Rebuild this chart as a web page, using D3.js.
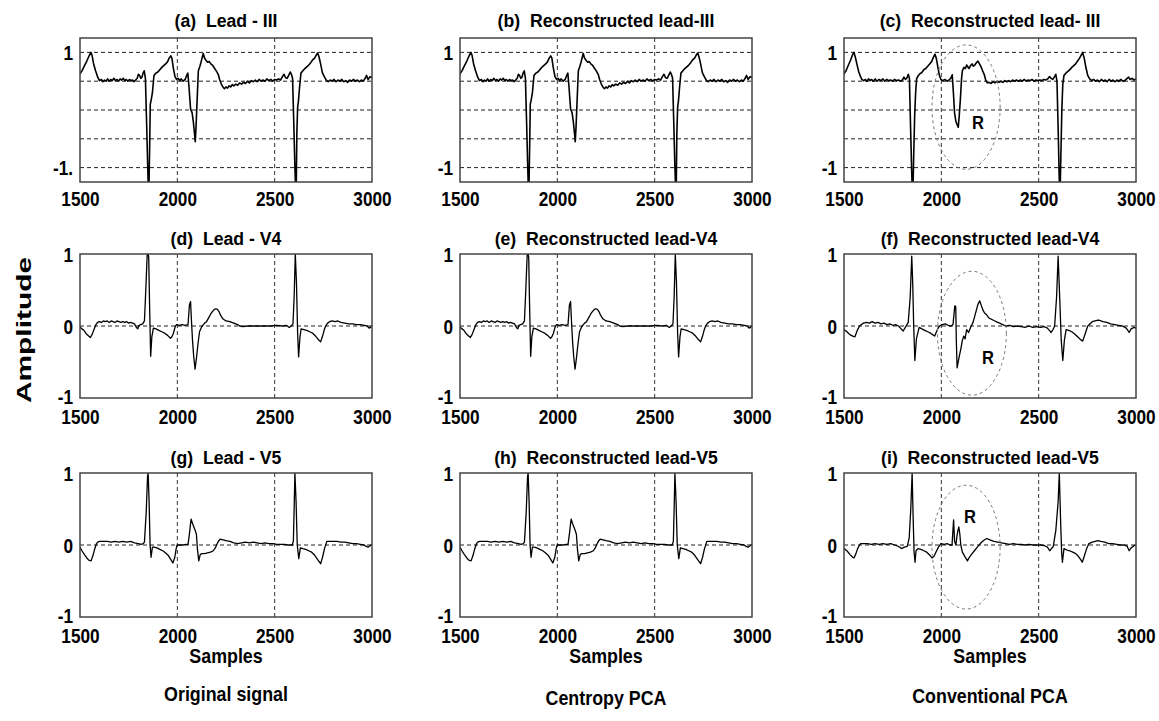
<!DOCTYPE html>
<html><head><meta charset="utf-8">
<script src="https://cdn.jsdelivr.net/npm/d3@7"></script>
<style>
body{margin:0;background:#fff}
svg text{font-family:"Liberation Sans",Arial,sans-serif;font-weight:bold;fill:#000;white-space:pre}
</style>
</head><body><svg id="c" width="1159" height="721"></svg>
<script>
// ---------- data ----------
const xDomain = [1500, 3000];
const xTicks = [1500, 2000, 2500, 3000];
const xGrid = [2000, 2500];
const rowYDomains = [[-1.25, 1.25], [-1, 1], [-1, 1]];
const rowYGrid = [[1, 0.5, 0, -0.5, -1], [0], [0]];
const rowYTicks = [[1, -1], [1, 0, -1], [1, 0, -1]];
const yTickText = [["1", "-1."], ["1", "-1"], ["1", "-1"], ["1", "0", "-1"], ["1", "0", "-1"], ["1", "0", "-1"], ["1", "0", "-1"], ["1", "0", "-1"], ["1", "0", "-1"]];
const titles = ["(a)  Lead - III", "(b)  Reconstructed lead-III", "(c)  Reconstructed lead- III",
  "(d)  Lead - V4", "(e)  Reconstructed lead-V4", "(f)  Reconstructed lead-V4",
  "(g)  Lead - V5", "(h)  Reconstructed lead-V5", "(i)  Reconstructed lead-V5"];
const columnLabels = ["Original signal", "Centropy PCA", "Conventional PCA"];

// Lead III original (a); centropy reconstruction (b) is visually identical
const leadIII_original = [[1500,0.63],[1510,0.68],[1520,0.75],[1535,0.85],[1548,0.95],[1556,1.0],[1562,0.95],[1570,0.8],[1580,0.68],[1591,0.57],[1600,0.51],[1610,0.53],[1618,0.49],[1626,0.52],[1634,0.5],[1642,0.54],[1650,0.5],[1658,0.53],[1666,0.51],[1674,0.55],[1682,0.51],[1690,0.53],[1698,0.5],[1706,0.54],[1714,0.52],[1722,0.55],[1730,0.51],[1738,0.53],[1746,0.5],[1754,0.53],[1762,0.51],[1770,0.52],[1778,0.49],[1786,0.52],[1794,0.55],[1800,0.62],[1806,0.6],[1812,0.55],[1818,0.57],[1824,0.64],[1830,0.68],[1836,0.55],[1842,-0.2],[1848,-1.0],[1853,-1.6],[1858,-0.6],[1861,0.1],[1866,0.18],[1872,0.3],[1880,0.6],[1890,0.64],[1900,0.66],[1910,0.7],[1920,0.74],[1930,0.77],[1940,0.8],[1950,0.84],[1958,0.9],[1966,0.94],[1972,0.9],[1980,0.72],[1988,0.58],[1996,0.53],[2004,0.55],[2012,0.51],[2020,0.54],[2030,0.5],[2040,0.53],[2048,0.6],[2054,0.64],[2060,0.4],[2068,0.02],[2076,-0.05],[2082,-0.2],[2088,-0.4],[2092,-0.55],[2096,-0.3],[2102,0.2],[2108,0.68],[2115,0.75],[2121,0.82],[2127,0.9],[2133,0.98],[2140,0.9],[2148,0.86],[2156,0.83],[2164,0.84],[2172,0.8],[2180,0.78],[2190,0.73],[2200,0.68],[2210,0.62],[2218,0.52],[2226,0.45],[2234,0.4],[2242,0.37],[2250,0.4],[2258,0.38],[2266,0.42],[2274,0.4],[2282,0.44],[2290,0.42],[2300,0.45],[2310,0.43],[2320,0.47],[2330,0.45],[2340,0.48],[2350,0.46],[2360,0.5],[2370,0.47],[2380,0.51],[2390,0.49],[2400,0.52],[2410,0.49],[2420,0.53],[2430,0.5],[2440,0.52],[2450,0.5],[2460,0.54],[2470,0.51],[2480,0.53],[2490,0.5],[2500,0.53],[2510,0.52],[2520,0.54],[2530,0.52],[2540,0.58],[2548,0.62],[2556,0.56],[2564,0.55],[2572,0.6],[2580,0.66],[2586,0.62],[2592,0.55],[2598,-0.2],[2604,-1.0],[2610,-1.6],[2614,-0.4],[2618,0.05],[2622,0.15],[2628,0.4],[2635,0.64],[2645,0.68],[2655,0.72],[2665,0.75],[2675,0.78],[2685,0.82],[2695,0.87],[2705,0.9],[2713,0.95],[2721,0.99],[2728,0.92],[2736,0.8],[2745,0.65],[2755,0.58],[2765,0.52],[2775,0.49],[2785,0.52],[2795,0.5],[2805,0.53],[2815,0.49],[2825,0.52],[2835,0.5],[2845,0.53],[2855,0.49],[2865,0.51],[2875,0.48],[2885,0.52],[2895,0.5],[2905,0.53],[2915,0.5],[2925,0.52],[2935,0.49],[2945,0.52],[2955,0.5],[2965,0.55],[2972,0.6],[2980,0.53],[2990,0.58],[3000,0.56]];
const leadIII_centropy = leadIII_original;
const leadIII_conventional = [[1500,0.63],[1510,0.68],[1520,0.76],[1532,0.85],[1544,0.96],[1551,1.0],[1558,0.92],[1566,0.8],[1576,0.66],[1585,0.58],[1592,0.53],[1600,0.51],[1610,0.53],[1618,0.5],[1626,0.54],[1634,0.51],[1642,0.53],[1650,0.5],[1660,0.54],[1670,0.5],[1680,0.53],[1690,0.51],[1700,0.54],[1710,0.5],[1720,0.53],[1730,0.51],[1740,0.52],[1750,0.5],[1760,0.53],[1770,0.51],[1780,0.52],[1790,0.5],[1800,0.52],[1808,0.57],[1816,0.53],[1824,0.56],[1830,0.62],[1836,0.55],[1842,-0.3],[1848,-1.1],[1853,-1.6],[1858,-0.8],[1863,-0.1],[1868,0.3],[1873,0.54],[1882,0.6],[1890,0.63],[1900,0.65],[1910,0.7],[1920,0.72],[1930,0.76],[1940,0.8],[1950,0.84],[1960,0.92],[1967,0.97],[1974,0.9],[1982,0.75],[1990,0.6],[1998,0.53],[2008,0.51],[2018,0.53],[2030,0.5],[2040,0.52],[2050,0.56],[2056,0.61],[2062,0.3],[2068,-0.05],[2075,-0.2],[2082,-0.26],[2087,-0.3],[2092,-0.1],[2098,0.2],[2104,0.55],[2108,0.68],[2116,0.74],[2124,0.72],[2130,0.78],[2136,0.75],[2142,0.72],[2150,0.77],[2158,0.8],[2164,0.76],[2172,0.78],[2180,0.82],[2188,0.85],[2196,0.8],[2204,0.75],[2212,0.68],[2220,0.62],[2228,0.52],[2236,0.47],[2246,0.48],[2256,0.46],[2266,0.49],[2276,0.47],[2286,0.5],[2296,0.48],[2306,0.5],[2316,0.48],[2326,0.51],[2336,0.49],[2346,0.51],[2356,0.49],[2366,0.52],[2376,0.5],[2386,0.52],[2396,0.5],[2406,0.52],[2416,0.5],[2426,0.53],[2436,0.5],[2446,0.52],[2456,0.51],[2466,0.53],[2476,0.5],[2486,0.52],[2496,0.51],[2506,0.52],[2516,0.51],[2526,0.53],[2536,0.52],[2546,0.54],[2556,0.58],[2564,0.55],[2572,0.53],[2580,0.57],[2588,0.62],[2594,0.5],[2600,-0.3],[2605,-1.1],[2609,-1.6],[2614,-0.8],[2619,0.0],[2624,0.45],[2630,0.6],[2640,0.64],[2650,0.67],[2660,0.7],[2670,0.74],[2680,0.77],[2690,0.8],[2700,0.85],[2710,0.9],[2718,0.95],[2726,1.0],[2734,0.9],[2742,0.75],[2752,0.6],[2762,0.54],[2772,0.51],[2782,0.53],[2792,0.5],[2802,0.52],[2812,0.49],[2822,0.53],[2832,0.5],[2842,0.52],[2852,0.49],[2862,0.53],[2872,0.5],[2882,0.52],[2892,0.49],[2902,0.52],[2912,0.5],[2922,0.53],[2932,0.5],[2942,0.51],[2952,0.54],[2962,0.57],[2970,0.53],[2980,0.55],[2990,0.52],[3000,0.54]];

const leadV4_original = [[1500,-0.01],[1510,-0.04],[1520,-0.06],[1530,-0.1],[1540,-0.13],[1553,-0.16],[1562,-0.12],[1572,-0.05],[1582,0.02],[1590,0.05],[1600,0.06],[1610,0.05],[1620,0.07],[1630,0.06],[1640,0.07],[1650,0.05],[1660,0.07],[1670,0.06],[1680,0.05],[1690,0.07],[1700,0.06],[1710,0.05],[1720,0.06],[1730,0.05],[1740,0.06],[1750,0.04],[1760,0.05],[1770,0.04],[1780,0.03],[1790,-0.02],[1797,-0.04],[1803,0.01],[1812,0.02],[1822,0.03],[1831,0.07],[1838,0.5],[1845,0.98],[1850,1.0],[1853,0.95],[1857,0.35],[1863,-0.42],[1869,-0.15],[1877,-0.03],[1890,-0.04],[1905,-0.06],[1920,-0.08],[1935,-0.1],[1950,-0.13],[1965,-0.17],[1972,-0.15],[1980,-0.1],[1990,0.0],[1998,0.02],[2010,0.01],[2025,0.02],[2040,0.01],[2055,0.02],[2062,0.29],[2068,0.34],[2073,0.05],[2078,-0.2],[2084,-0.42],[2091,-0.6],[2098,-0.45],[2106,-0.25],[2114,-0.08],[2125,-0.01],[2140,0.04],[2150,0.06],[2160,0.11],[2170,0.16],[2180,0.2],[2190,0.23],[2198,0.24],[2206,0.23],[2214,0.2],[2222,0.15],[2234,0.1],[2250,0.07],[2270,0.06],[2290,0.04],[2310,0.02],[2320,0.0],[2336,-0.01],[2360,0.0],[2390,0.0],[2420,0.0],[2450,0.0],[2480,0.0],[2510,0.01],[2540,0.0],[2560,0.01],[2575,-0.02],[2585,0.0],[2594,0.03],[2600,0.4],[2606,1.0],[2612,0.6],[2618,-0.1],[2623,-0.43],[2630,-0.15],[2636,-0.04],[2650,-0.05],[2665,-0.06],[2680,-0.08],[2695,-0.1],[2710,-0.14],[2722,-0.18],[2736,-0.22],[2745,-0.15],[2755,-0.05],[2762,0.0],[2772,0.04],[2782,0.06],[2795,0.07],[2810,0.06],[2825,0.07],[2840,0.05],[2860,0.04],[2880,0.03],[2900,0.03],[2920,0.02],[2940,0.02],[2960,0.01],[2975,0.0],[2985,-0.03],[2992,-0.02],[3000,0.01]];
const leadV4_centropy = leadV4_original;
const leadV4_conventional = [[1500,-0.05],[1515,-0.08],[1530,-0.12],[1545,-0.14],[1556,-0.15],[1570,-0.05],[1580,0.0],[1590,0.02],[1600,0.04],[1615,0.05],[1630,0.04],[1645,0.06],[1660,0.04],[1675,0.05],[1690,0.03],[1705,0.04],[1720,0.02],[1735,0.03],[1750,0.01],[1765,0.02],[1780,0.0],[1790,-0.03],[1804,-0.07],[1815,-0.02],[1830,0.05],[1840,0.4],[1848,0.97],[1853,0.6],[1858,0.0],[1864,-0.48],[1872,-0.18],[1886,-0.02],[1900,-0.04],[1915,-0.06],[1930,-0.08],[1945,-0.1],[1955,-0.12],[1966,-0.14],[1975,-0.08],[1985,-0.02],[1992,0.0],[2005,0.02],[2020,0.03],[2035,0.01],[2050,0.0],[2060,0.02],[2069,0.28],[2074,0.27],[2077,-0.2],[2081,-0.58],[2090,-0.45],[2100,-0.32],[2108,-0.2],[2115,-0.14],[2122,-0.18],[2130,-0.05],[2140,-0.09],[2150,-0.02],[2163,0.05],[2172,0.14],[2180,0.22],[2188,0.3],[2197,0.35],[2206,0.28],[2214,0.22],[2222,0.18],[2231,0.16],[2245,0.11],[2260,0.09],[2275,0.07],[2290,0.05],[2300,0.04],[2315,0.02],[2330,0.0],[2350,0.01],[2370,-0.01],[2390,0.0],[2410,-0.01],[2430,-0.02],[2450,0.0],[2470,-0.02],[2490,-0.01],[2510,-0.02],[2530,-0.01],[2545,-0.03],[2555,-0.06],[2564,-0.09],[2574,-0.05],[2582,0.0],[2592,0.4],[2600,0.97],[2608,0.4],[2616,-0.2],[2624,-0.48],[2632,-0.2],[2641,-0.05],[2655,-0.06],[2670,-0.08],[2685,-0.11],[2700,-0.15],[2712,-0.18],[2726,-0.21],[2740,-0.1],[2752,0.0],[2760,0.02],[2775,0.06],[2790,0.07],[2805,0.08],[2812,0.08],[2830,0.06],[2850,0.05],[2870,0.03],[2890,0.02],[2910,0.01],[2930,0.0],[2950,-0.03],[2958,-0.06],[2965,-0.09],[2975,-0.04],[2990,-0.02],[3000,-0.03]];

const leadV5_original = [[1500,-0.03],[1510,-0.08],[1522,-0.13],[1535,-0.18],[1545,-0.21],[1557,-0.22],[1566,-0.15],[1575,-0.06],[1585,0.02],[1591,0.04],[1600,0.05],[1620,0.05],[1640,0.05],[1660,0.04],[1680,0.05],[1700,0.04],[1720,0.05],[1740,0.04],[1760,0.05],[1780,0.03],[1800,0.02],[1815,0.01],[1825,0.02],[1831,0.04],[1840,0.45],[1847,0.95],[1850,1.0],[1855,0.6],[1860,0.0],[1865,-0.17],[1872,-0.03],[1880,-0.03],[1895,-0.04],[1910,-0.06],[1925,-0.08],[1940,-0.11],[1955,-0.15],[1966,-0.2],[1977,-0.25],[1987,-0.17],[1994,-0.05],[1999,0.0],[2015,0.0],[2030,0.0],[2045,0.01],[2055,0.01],[2062,0.15],[2068,0.3],[2071,0.36],[2078,0.3],[2085,0.25],[2092,0.2],[2098,0.15],[2103,-0.05],[2110,-0.22],[2118,-0.13],[2126,-0.12],[2140,-0.12],[2155,-0.11],[2170,-0.1],[2185,-0.08],[2195,-0.04],[2205,0.02],[2213,0.06],[2220,0.08],[2235,0.07],[2250,0.06],[2270,0.05],[2290,0.03],[2310,0.02],[2330,0.03],[2350,0.04],[2370,0.03],[2390,0.04],[2410,0.03],[2430,0.02],[2450,0.03],[2470,0.02],[2490,0.02],[2510,0.01],[2530,0.01],[2550,0.01],[2570,0.0],[2590,0.0],[2596,0.05],[2600,0.5],[2604,1.0],[2610,0.6],[2616,0.0],[2624,-0.19],[2632,-0.04],[2645,-0.05],[2660,-0.06],[2675,-0.08],[2690,-0.1],[2705,-0.14],[2720,-0.2],[2736,-0.26],[2746,-0.17],[2756,-0.05],[2768,0.05],[2785,0.05],[2800,0.05],[2820,0.05],[2840,0.04],[2860,0.04],[2880,0.03],[2900,0.02],[2920,0.02],[2940,0.01],[2960,0.0],[2970,-0.02],[2980,-0.03],[2990,-0.01],[3000,0.01]];
const leadV5_centropy = leadV5_original;
const leadV5_conventional = [[1500,-0.05],[1515,-0.08],[1530,-0.13],[1545,-0.17],[1551,-0.18],[1560,-0.13],[1570,-0.05],[1580,0.0],[1585,0.02],[1600,0.02],[1620,0.02],[1640,0.01],[1660,0.02],[1680,0.01],[1700,0.02],[1720,0.01],[1740,0.02],[1760,0.0],[1780,-0.02],[1795,-0.05],[1810,-0.03],[1825,-0.02],[1835,0.1],[1843,0.5],[1850,1.0],[1855,0.4],[1860,-0.1],[1865,-0.24],[1870,-0.08],[1880,-0.05],[1895,-0.06],[1910,-0.08],[1925,-0.1],[1940,-0.14],[1952,-0.18],[1962,-0.16],[1972,-0.1],[1985,-0.03],[1998,0.02],[2015,0.01],[2030,0.02],[2045,0.0],[2055,0.0],[2063,0.35],[2068,0.05],[2075,0.0],[2080,0.12],[2085,0.2],[2090,0.25],[2095,0.15],[2100,0.0],[2108,-0.1],[2117,-0.14],[2125,-0.18],[2134,-0.22],[2142,-0.18],[2155,-0.13],[2170,-0.08],[2185,-0.03],[2200,0.02],[2215,0.06],[2233,0.09],[2250,0.07],[2270,0.05],[2290,0.04],[2310,0.03],[2330,0.02],[2350,0.01],[2370,0.02],[2390,0.01],[2410,0.01],[2430,0.0],[2450,0.01],[2470,0.0],[2490,0.0],[2510,0.0],[2530,-0.01],[2545,-0.03],[2557,-0.08],[2565,-0.05],[2575,-0.02],[2588,0.2],[2600,0.6],[2606,1.0],[2612,0.4],[2618,-0.1],[2622,-0.24],[2630,-0.05],[2645,-0.07],[2660,-0.08],[2675,-0.1],[2690,-0.12],[2705,-0.16],[2715,-0.2],[2724,-0.24],[2735,-0.15],[2745,-0.06],[2758,0.02],[2775,0.04],[2790,0.05],[2805,0.06],[2820,0.05],[2840,0.04],[2860,0.02],[2880,0.02],[2900,0.01],[2920,0.0],[2940,0.0],[2955,-0.02],[2965,-0.08],[2975,-0.04],[2990,-0.01],[3000,0.0]];

// ellipse annotations (conventional PCA column): [centerSample, centerValue, radiusSamples, radiusValue]
const regionEllipses = [[2127, 0.05, 175, 1.08], [2157, -0.1, 177, 0.86], [2127, -0.03, 175, 0.86]];
const regionLabels = [[2188, -0.23], [2240, -0.44], [2147, 0.39]];

const signals = [leadIII_original, leadIII_centropy, leadIII_conventional,
  leadV4_original, leadV4_centropy, leadV4_conventional,
  leadV5_original, leadV5_centropy, leadV5_conventional];

// ---------- layout ----------
const svg = d3.select("#c");
const colX = [80, 460, 844], rowY = [38, 254, 473];
const W = 292, H = 144;
const FS = 21, SX = 0.82;
const xLabelOffset = [17, 19, 19];

// condensed text helper (no narrow font available): translate + horizontal squeeze
function ctext(parent, x, y, str, size, sx) {
  return parent.append("text")
    .attr("transform", `translate(${x},${y}) scale(${sx},1)`)
    .attr("text-anchor", "middle").attr("dominant-baseline", "central")
    .style("font-size", size + "px").text(str);
}

for (let r = 0; r < 3; r++) {
  for (let c = 0; c < 3; c++) {
    const i = r * 3 + c;
    const g = svg.append("g").attr("transform", `translate(${colX[c]},${rowY[r]})`);
    const x = d3.scaleLinear().domain(xDomain).range([0, W]);
    const y = d3.scaleLinear().domain(rowYDomains[r]).range([H, 0]);

    g.append("clipPath").attr("id", "clip" + i).append("rect").attr("width", W).attr("height", H);

    // grid
    g.selectAll(".vg").data(xGrid).join("line")
      .attr("x1", d => x(d)).attr("x2", d => x(d)).attr("y1", 0).attr("y2", H)
      .attr("stroke", "#333").attr("stroke-width", 1).attr("stroke-dasharray", "4,3");
    g.selectAll(".hg").data(rowYGrid[r]).join("line")
      .attr("x1", 0).attr("x2", W).attr("y1", d => y(d)).attr("y2", d => y(d))
      .attr("stroke", "#222").attr("stroke-width", 1).attr("stroke-dasharray", "4,3");

    // signal
    const line = d3.line().x(d => x(d[0])).y(d => y(d[1]));
    g.append("path").datum(signals[i]).attr("d", line)
      .attr("fill", "none").attr("stroke", "#000").attr("stroke-width", r === 0 ? 1.6 : 1.3)
      .attr("stroke-linejoin", "round").attr("clip-path", `url(#clip${i})`);

    // annotations
    if (c === 2) {
      const e = regionEllipses[r];
      g.append("ellipse")
        .attr("cx", x(e[0])).attr("cy", y(e[1]))
        .attr("rx", x(e[0] + e[2]) - x(e[0])).attr("ry", y(e[1] - e[3]) - y(e[1]))
        .attr("fill", "none").attr("stroke", "#777").attr("stroke-width", 1).attr("stroke-dasharray", "3,3");
      const l = regionLabels[r];
      ctext(g, x(l[0]), y(l[1]), "R", 18, 0.92);
    }

    // box
    g.append("rect").attr("width", W).attr("height", H)
      .attr("fill", "none").attr("stroke", "#444").attr("stroke-width", 1.5);

    // x axis
    const xa = g.append("g").attr("transform", `translate(0,${H})`)
      .call(d3.axisBottom(x).tickValues(xTicks).tickSize(0).tickFormat(d3.format("d")));
    xa.select(".domain").remove();
    xa.selectAll("text").attr("y", null).attr("dy", null)
      .attr("transform", `translate(0,${xLabelOffset[r]}) scale(${SX},1)`).attr("dominant-baseline", "central")
      .style("font-size", FS + "px").style("font-family", null);

    // y axis
    const ya = g.append("g")
      .call(d3.axisLeft(y).tickValues(rowYTicks[r]).tickSize(0)
        .tickFormat((d, k) => yTickText[i][k]));
    ya.select(".domain").remove();
    ya.selectAll("text").attr("x", null).attr("dy", null)
      .attr("transform", (d) => `translate(-7,${r > 0 && d === -1 ? -2 : 0}) scale(${SX},1)`)
      .attr("dominant-baseline", "central")
      .style("font-size", FS + "px").style("font-family", null);

    // title
    ctext(g, W / 2, r === 0 ? -18 : -16, titles[i], 19, 0.93);

    if (r === 2) ctext(g, W / 2, H + 38, "Samples", FS, 0.85);
  }
}

// column labels
const colLabelY = [693, 697, 695];
columnLabels.forEach((t, c) => ctext(svg, colX[c] + W / 2, colLabelY[c], t, FS, 0.85));

// y label
svg.append("text").attr("transform", "translate(23,330) rotate(-90)")
  .attr("text-anchor", "middle").attr("dominant-baseline", "central")
  .style("font-size", "21px")
  .attr("textLength", 146).attr("lengthAdjust", "spacingAndGlyphs")
  .text("Amplitude");
</script></body></html>
